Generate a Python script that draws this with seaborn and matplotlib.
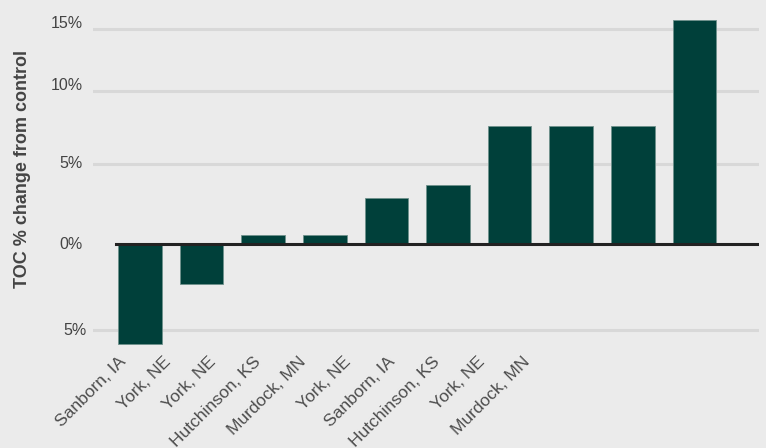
import numpy as np
import pandas as pd
import matplotlib.pyplot as plt
import seaborn as sns
from matplotlib.transforms import ScaledTranslation

sites = ["Sanborn, IA", "York, NE", "York, NE", "Hutchinson, KS", "Murdock, MN",
         "York, NE", "Sanborn, IA", "Hutchinson, KS", "York, NE", "Murdock, MN"]
toc_change = [-5.8, -2.3, 0.55, 0.55, 2.9, 3.7, 7.6, 7.6, 7.6, 15.7]
tick_vals = [-5, 0, 5, 10, 15]
tick_labels = ["5%", "0%", "5%", "10%", "15%"]

# the original axis has uneven spacing between gridlines -> piecewise scale
knots = [-10, -5, 0, 5, 10, 15, 20]
knot_px = [-172, -86, 0, 80, 152.5, 215, 277.5]


def fwd(v):
    return np.interp(v, knots, knot_px)


def inv(p):
    return np.interp(p, knot_px, knots)


df = pd.DataFrame({"idx": range(len(sites)), "toc": toc_change})

bg = "#ebebeb"
sns.set_style({"axes.facecolor": bg, "figure.facecolor": bg})
plt.rcParams["font.family"] = ["Liberation Sans", "DejaVu Sans"]

fig = plt.figure(figsize=(7.66, 4.48), dpi=100)
ax = fig.add_axes([93 / 766, 98 / 448, 666 / 766, 340 / 448])
ax.set_yscale("function", functions=(fwd, inv))

sns.barplot(data=df, x="idx", y="toc", color="#00403a", saturation=1,
            width=0.71, edgecolor="#6f918c", linewidth=0.6, ax=ax, zorder=2)

ax.set_xlim((93 - 140) / 61.6, (759 - 140) / 61.6)
ax.set_ylim(inv(-106), inv(234))

# gridlines (zero handled by the dark baseline)
for v in tick_vals:
    if v != 0:
        ax.axhline(v, color="#d8d8d8", lw=2.2, zorder=0.5)
ax.axhline(0, xmin=(116 - 93) / 666, color="#222222", lw=2.2, zorder=3)

ax.set_yticks(tick_vals, tick_labels)
ax.tick_params(axis="y", length=0, pad=7.5, labelsize=11.5, labelcolor="#444444")
# labels in the original sit a little above their gridlines
nudges = [(4, 1), (0, 1), (0, 2), (0, 7), (0, 7)]
for lab, (dx, dy) in zip(ax.get_yticklabels(), nudges):
    lab.set_transform(lab.get_transform()
                      + ScaledTranslation(dx / 100, dy / 100, fig.dpi_scale_trans))

ax.tick_params(axis="x", length=0, labelbottom=False)
ax.set_xlabel("")
ax.set_ylabel("TOC % change from control", fontsize=13, fontweight="bold",
              color="#444444")
ax.yaxis.set_label_coords((31 - 93) / 666, (350 - 169) / 340)
ax.grid(False)
sns.despine(ax=ax, left=True, bottom=True)

# site labels sit on their own, tighter spacing than the bars
ax2 = ax.twiny()
ax2.xaxis.set_ticks_position("bottom")
ax2.set_xlim((93 - 124) / 44.8, (759 - 124) / 44.8)
ax2.set_xticks(range(len(sites)), sites, rotation=45, ha="right",
               va="center", rotation_mode="anchor")
ax2.tick_params(axis="x", length=0, pad=7, labelsize=12.5, labelcolor="#4d4d4d")
ax2.grid(False)
for s in ax2.spines.values():
    s.set_visible(False)

fig.savefig("out.png", dpi=100, facecolor=bg)
